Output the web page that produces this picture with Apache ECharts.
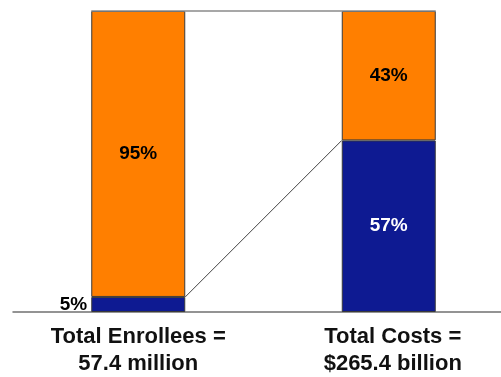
<!DOCTYPE html>
<html>
<head>
<meta charset="utf-8">
<script src="https://cdn.jsdelivr.net/npm/echarts@6/dist/echarts.min.js"></script>
<style>
  html, body { margin: 0; padding: 0; background: #fff; }
  #chart { width: 501px; height: 377px; }
</style>
</head>
<body>
<div id="chart"></div>
<script>
// Share of enrollees vs. share of costs
const categories = ['Total Enrollees =\n57.4 million', 'Total Costs =\n$265.4 billion'];
const bluePct = [5, 57];
const orangePct = [95, 43];

const BAR_WIDTH = 94;
const FONT = '"Liberation Sans", Arial, sans-serif';

const chart = echarts.init(document.getElementById('chart'), null, { renderer: 'canvas' });

const blueData = bluePct.map((v, i) => ({
  value: v,
  label: i === 0
    ? { position: 'left', distance: 4, color: '#000' }
    : { position: 'inside', color: '#fff' }
}));

// second caption sits a little right of its bar's centre
const categoryData = categories.map((c, i) => ({
  value: c,
  textStyle: i === 1 ? { padding: [0, 0, 0, 8] } : {}
}));

chart.setOption({
  animation: false,
  backgroundColor: '#fff',
  // plot area runs past the right edge so the axis line reaches the border
  grid: {
    left: 13, right: -13, top: 11, bottom: 65,
    containLabel: false,
    outerBoundsMode: 'none'
  },
  xAxis: {
    type: 'category',
    data: categoryData,
    boundaryGap: true,
    axisLine: { show: true, lineStyle: { color: '#707070', width: 1.5 } },
    axisTick: { show: false },
    axisLabel: {
      margin: 11,
      fontFamily: FONT,
      fontWeight: 'bold',
      fontSize: 22,
      lineHeight: 27,
      color: '#111',
      interval: 0
    }
  },
  yAxis: { type: 'value', min: 0, max: 100, show: false, splitLine: { show: false } },
  series: [
    {
      type: 'bar',
      stack: 'share',
      barWidth: BAR_WIDTH,
      data: blueData,
      itemStyle: { color: '#0E1A92', borderColor: '#3a3a3a', borderWidth: 1 },
      label: {
        show: true,
        formatter: '{c}%',
        fontFamily: FONT,
        fontWeight: 'bold',
        fontSize: 19
      }
    },
    {
      type: 'bar',
      stack: 'share',
      barWidth: BAR_WIDTH,
      data: orangePct,
      itemStyle: { color: '#FF7F00', borderColor: '#3a3a3a', borderWidth: 1 },
      label: {
        show: true,
        position: 'inside',
        formatter: '{c}%',
        fontFamily: FONT,
        fontWeight: 'bold',
        fontSize: 19,
        color: '#000'
      }
    },
    {
      // connector lines between the two bars
      type: 'custom',
      silent: true,
      z: 5,
      data: [[0, bluePct[0]]],
      renderItem: function (params, api) {
        const half = BAR_WIDTH / 2;
        const a = api.coord([0, bluePct[0]]);
        const b = api.coord([1, bluePct[1]]);
        const ta = api.coord([0, bluePct[0] + orangePct[0]]);
        const tb = api.coord([1, bluePct[1] + orangePct[1]]);
        return {
          type: 'group',
          children: [
            {
              type: 'line',
              shape: { x1: a[0] + half, y1: a[1], x2: b[0] - half, y2: b[1] },
              style: { stroke: '#444', lineWidth: 1 }
            },
            {
              type: 'line',
              shape: { x1: ta[0] - half, y1: ta[1], x2: tb[0] + half, y2: tb[1] },
              style: { stroke: '#8a8a8a', lineWidth: 1.5 }
            }
          ]
        };
      }
    }
  ]
});
</script>
</body>
</html>
